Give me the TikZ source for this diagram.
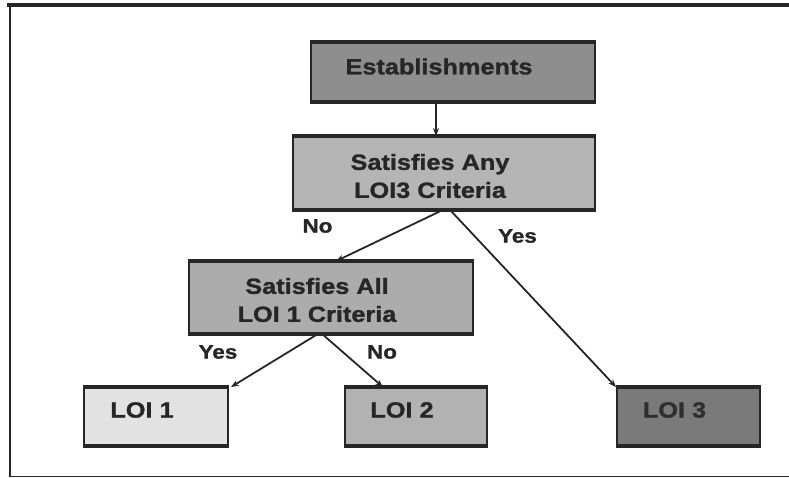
\documentclass[tikz,border=0pt]{standalone}
\usepackage{fontspec}
\setmainfont{Liberation Sans}[FakeStretch=1.15, BoldFeatures={FakeBold=1.2}]
\usepackage{tikz}
\usetikzlibrary{arrows.meta,positioning}
\usepackage{xcolor}

\definecolor{inkgray}{HTML}{262626}
\definecolor{estgray}{HTML}{8E8E8E}
\definecolor{anygray}{HTML}{B5B5B5}
\definecolor{allgray}{HTML}{ACACAC}
\definecolor{loigrayA}{HTML}{E2E2E2}
\definecolor{loigrayB}{HTML}{B2B2B2}
\definecolor{loigrayC}{HTML}{7A7A7A}

\tikzset{
  box/.style={draw=inkgray, line width=1.8pt, inner sep=0pt},
  bar/.style={draw=inkgray, line width=4pt},
  boxtext/.style={text=inkgray, font=\bfseries\fontsize{22}{28}\selectfont,
    align=center, inner sep=0pt, xshift=-14pt},
  branch/.style={text=inkgray, font=\bfseries\fontsize{19.5}{22}\selectfont, inner sep=0pt},
  flow/.style={draw=inkgray, line width=1.8pt, -{Stealth[length=8pt,width=6pt]}}
}

\begin{document}
\begin{tikzpicture}[x=1pt,y=-1pt]
    \useasboundingbox (0,0) rectangle (789,478);

    % Frame
    \draw[inkgray, line width=3.5pt] (7,5) -- (789,5);
    \draw[inkgray, line width=2.2pt] (10,5) -- (10,477);
    \draw[inkgray, line width=1.8pt] (10,476.5) -- (789,476.5);

    % Boxes
    \node[box, fill=estgray, minimum width=284, minimum height=58] (est) at (453,72) {};
    \node[box, fill=anygray, minimum width=302, minimum height=72] (any) at (444,173) {};
    \node[box, fill=allgray, minimum width=284, minimum height=71] (all) at (331,297.5) {};
    \node[box, fill=loigrayA, minimum width=144, minimum height=57] (loi1) at (156,416.5) {};
    \node[box, fill=loigrayB, minimum width=142, minimum height=57] (loi2) at (416,416.5) {};
    \node[box, fill=loigrayC, minimum width=143, minimum height=57] (loi3) at (688.5,416.5) {};

    % Thick top and bottom edges
    \foreach \n in {est,any,all,loi1,loi2,loi3}
      \draw[bar] (\n.north west) -- (\n.north east) (\n.south west) -- (\n.south east);

    % Box texts
    \node[boxtext, yshift=5.5pt] (est-txt) at (est.center) {Establishments};
    \node[boxtext, yshift=-3pt] (any-txt) at (any.center) {Satisfies Any\\LOI3 Criteria};
    \node[boxtext, yshift=-2.5pt] (all-txt) at (all.center) {Satisfies All\\LOI 1 Criteria};
    \node[boxtext, yshift=6.5pt] (loi1-txt) at (loi1.center) {LOI 1};
    \node[boxtext, yshift=6.5pt] (loi2-txt) at (loi2.center) {LOI 2};
    \node[boxtext, yshift=6.5pt, text=black!82] (loi3-txt) at (loi3.center) {LOI 3};

    % Branch labels
    \node[branch] (no-any) at (317.5,226) {No};
    \node[branch] (yes-any) at (517.5,236) {Yes};
    \node[branch] (yes-all) at (218,352) {Yes};
    \node[branch] (no-all) at (382,352) {No};

    % Arrows
    \draw[flow] ([xshift=-17pt]est.south) -- ([xshift=-8pt]any.north);
    \draw[flow] ([xshift=-1pt]any.south) -- ([xshift=5pt]all.north);
    \draw[flow] ([xshift=6pt]any.south) -- (loi3.north west);
    \draw[flow] ([xshift=-13pt]all.south) -- ([xshift=2pt]loi1.north east);
    \draw[flow] ([xshift=-9pt]all.south) -- ([xshift=-33pt]loi2.north);
\end{tikzpicture}
\end{document}
